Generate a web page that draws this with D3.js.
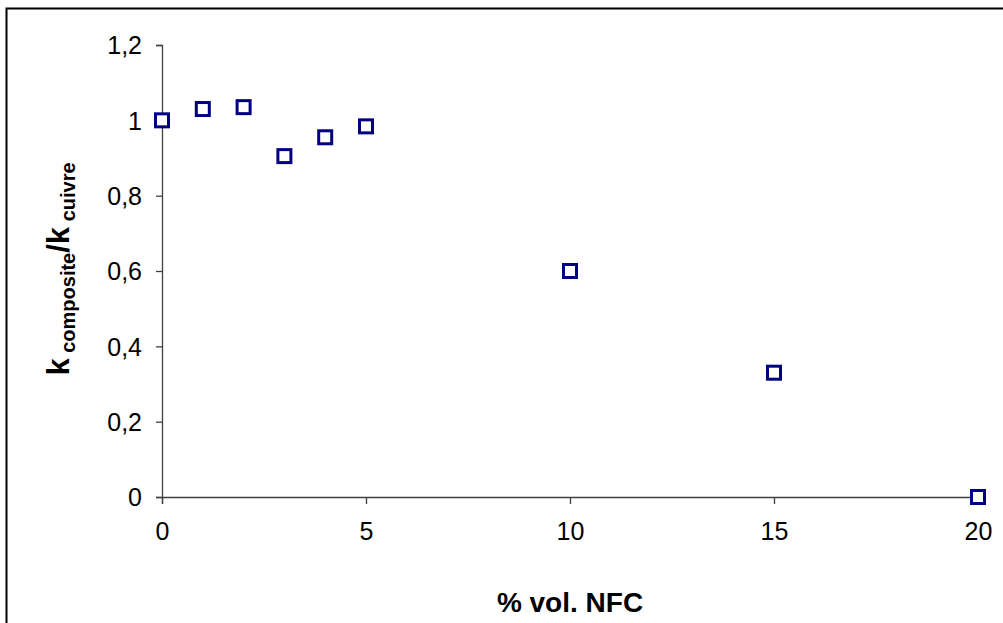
<!DOCTYPE html>
<html>
<head>
<meta charset="utf-8">
<script src="https://cdn.jsdelivr.net/npm/d3@7"></script>
<style>
  html, body { margin: 0; padding: 0; background: #fff; }
  svg { display: block; font-family: "Liberation Sans", Arial, sans-serif; }
</style>
</head>
<body>
<svg id="chart" width="1003" height="623"></svg>
<script>
const xValues = [0, 1, 2, 3, 4, 5, 10, 15, 20];
const yValues = [1.0, 1.03, 1.035, 0.905, 0.955, 0.984, 0.60, 0.33, 0.0];
const xTicks = [0, 5, 10, 15, 20];
const yTicks = [0, 0.2, 0.4, 0.6, 0.8, 1.0, 1.2];
const xTitle = "% vol. NFC";

const svg = d3.select("#chart");
const W = 1003, H = 623;

svg.append("rect").attr("x", 0).attr("y", 0).attr("width", W).attr("height", H).attr("fill", "#fff");
svg.append("rect")
  .attr("x", 6.5).attr("y", 8.5)
  .attr("width", W + 10).attr("height", H + 10)
  .attr("fill", "none").attr("stroke", "#000").attr("stroke-width", 2);

const x = d3.scaleLinear().domain([0, 20]).range([162, 978]);
const y = d3.scaleLinear().domain([0, 1.2]).range([497, 45]);

const fmt = d => d3.format("")(+d.toFixed(1)).replace(".", ",");

const axisColor = "#404040";

const yAxis = svg.append("g")
  .attr("transform", `translate(${x(0)},0)`)
  .call(d3.axisLeft(y).tickValues(yTicks).tickFormat(fmt).tickSize(6).tickPadding(14));
const xAxis = svg.append("g")
  .attr("transform", `translate(0,${y(0)})`)
  .call(d3.axisBottom(x).tickValues(xTicks).tickFormat(d3.format("d")).tickSize(7).tickPadding(18));

[xAxis, yAxis].forEach(g => {
  g.select(".domain").attr("stroke", axisColor).attr("stroke-width", 1.3);
  g.selectAll(".tick line").attr("stroke", axisColor).attr("stroke-width", 1.3);
  g.selectAll(".tick text").attr("fill", "#000").style("font-size", "25px")
    .style("font-family", "'Liberation Sans', Arial, sans-serif");
});
yAxis.selectAll(".tick text").attr("dy", "0.35em");

// markers
const pts = xValues.map((v, i) => ({ x: v, y: yValues[i] }));
const s = 13;
svg.append("g").selectAll("rect").data(pts).join("rect")
  .attr("x", d => x(d.x) - s / 2)
  .attr("y", d => y(d.y) - s / 2)
  .attr("width", s).attr("height", s)
  .attr("fill", "#fff")
  .attr("stroke", "#000080")
  .attr("stroke-width", 3);

// x title
svg.append("text")
  .attr("x", 570).attr("y", 612)
  .attr("text-anchor", "middle")
  .style("font-size", "28px").style("font-weight", "bold")
  .text(xTitle);

// y title with subscripts
const yt = svg.append("text")
  .attr("transform", `translate(69,269) rotate(-90)`)
  .attr("text-anchor", "middle")
  .style("font-weight", "bold");
yt.append("tspan").style("font-size", "31px").text("k");
yt.append("tspan").style("font-size", "20px").attr("dy", 6).text(" composite");
yt.append("tspan").style("font-size", "31px").attr("dy", -6).text("/k");
yt.append("tspan").style("font-size", "20px").attr("dy", 6).text(" cuivre");
</script>
</body>
</html>
